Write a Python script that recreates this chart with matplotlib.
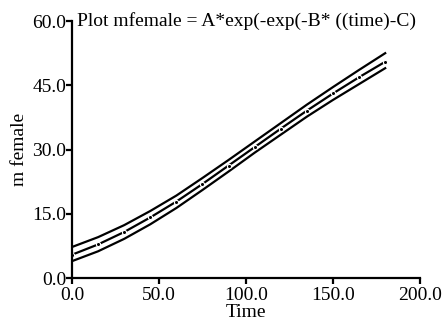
import matplotlib
matplotlib.use("Agg")
import matplotlib.pyplot as plt

# values (Gompertz fit with confidence band)
time = [0, 15, 30, 45, 60, 75, 90, 105, 120, 135, 150, 165, 180]
m_fit = [5.5, 7.9, 10.8, 14.2, 17.9, 22.0, 26.3, 30.6, 34.9, 39.1, 43.1, 46.9, 50.5]
m_upper = [7.3, 9.6, 12.4, 15.7, 19.3, 23.4, 27.6, 31.9, 36.2, 40.5, 44.6, 48.6, 52.5]
m_lower = [4.0, 6.3, 9.2, 12.6, 16.4, 20.6, 24.9, 29.3, 33.5, 37.7, 41.6, 45.3, 49.0]

x_ticks = [0, 50, 100, 150, 200]
y_ticks = [0, 15, 30, 45, 60]

plt.rcParams['font.family'] = ['Liberation Serif', 'DejaVu Serif']

fig = plt.figure(figsize=(4.45, 3.22), dpi=100)
ax = fig.add_axes([0.1618, 0.1357, 0.782, 0.799])

ax.plot(time, m_upper, color='black', linewidth=1.6)
ax.plot(time, m_lower, color='black', linewidth=1.6)
ax.plot(time, m_fit, color='black', linewidth=1.6, marker='o', markersize=3.0,
        markerfacecolor='black', markeredgecolor='white', markeredgewidth=0.8)

ax.set_xlim(0, 200)
ax.set_ylim(0, 60)
ax.set_xticks(x_ticks)
ax.set_yticks(y_ticks)
ax.set_xticklabels([f'{v:.1f}' for v in x_ticks])
ax.set_yticklabels([f'{v:.1f}' for v in y_ticks])

for s in ['top', 'right']:
    ax.spines[s].set_visible(False)
for s in ['left', 'bottom']:
    ax.spines[s].set_linewidth(1.6)
ax.tick_params(width=1.6, length=4, labelsize=14)
ax.tick_params(axis='x', pad=2)
ax.tick_params(axis='y', pad=0)

ax.set_xlabel('Time', fontsize=14, labelpad=0)
ax.set_ylabel('m female', fontsize=14, labelpad=3)

ax.text(0.015, 1.0, 'Plot mfemale = A*exp(-exp(-B* ((time)-C)', transform=ax.transAxes,
        ha='left', va='center', fontsize=14)

fig.savefig('out.png', dpi=100)
